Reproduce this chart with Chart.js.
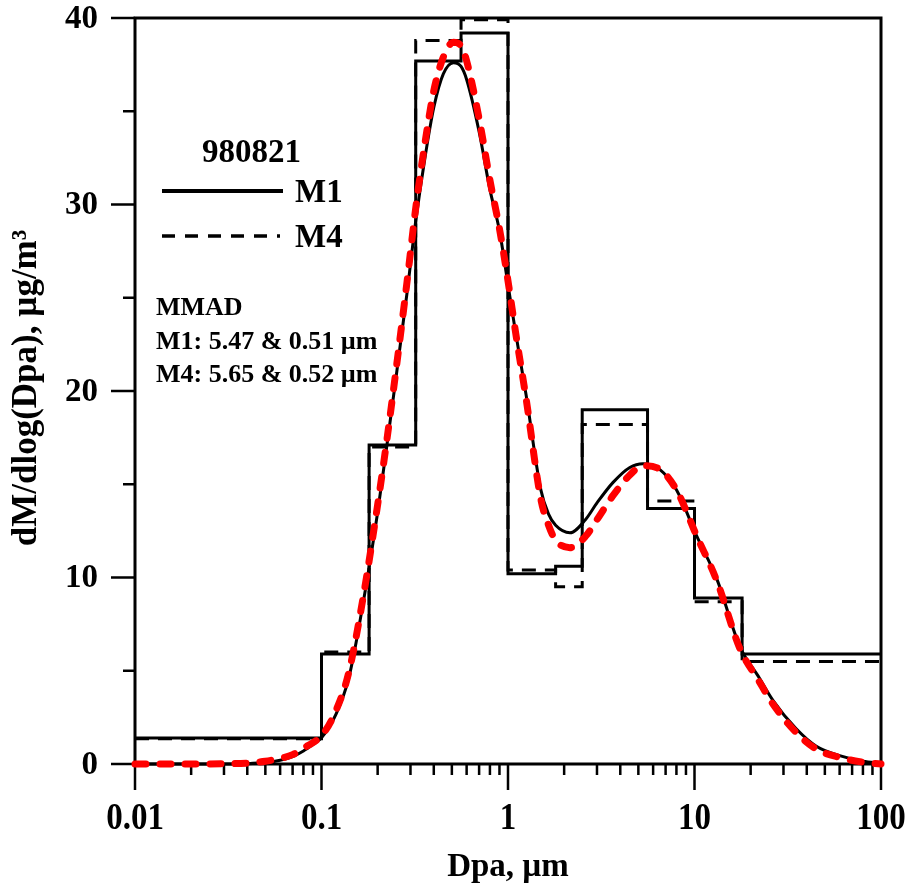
<!DOCTYPE html>
<html>
<head>
<meta charset="utf-8">
<script src="https://cdn.jsdelivr.net/npm/chart.js@4/dist/chart.umd.min.js"></script>
<style>
  html, body { margin: 0; padding: 0; background: #ffffff; }
  #wrap { width: 911px; height: 883px; position: relative; }
</style>
</head>
<body>
<div id="wrap"><canvas id="c" width="911" height="883"></canvas></div>
<script>
// Impactor stage boundaries (µm) and measured dM/dlog(Dpa) per stage
const binEdges = [0.01, 0.1, 0.18, 0.32, 0.56, 1.0, 1.8, 2.5, 5.6, 10, 18, 100];
const m1Bins   = [1.4, 5.9, 17.1, 37.7, 39.2, 10.2, 10.6, 19.0, 13.7, 8.9, 5.9];
const m4Bins   = [1.35, 6.0, 17.0, 38.8, 39.9, 10.4, 9.5, 18.2, 14.1, 8.7, 5.5];

// Fitted size distributions
const fitDiameters = [0.01, 0.02, 0.03, 0.04, 0.05, 0.06, 0.07, 0.08, 0.09, 0.1,
  0.12, 0.14, 0.167, 0.2, 0.225, 0.25, 0.287, 0.32, 0.36, 0.4, 0.45, 0.51, 0.56,
  0.6, 0.7, 0.8, 0.9, 1.0, 1.1, 1.25, 1.5, 1.65, 1.8, 2.15, 2.6, 3.0, 3.66, 4.5,
  5.3, 6.5, 8.0, 10.3, 13.2, 17.5, 22, 26.4, 35, 45, 60, 80, 100];
const fitM1 = [0, 0, 0, 0.02, 0.08, 0.2, 0.4, 0.7, 1.05, 1.4,
  2.7, 4.6, 8.6, 13.5, 17.2, 20.6, 25.2, 29.1, 32.6, 35.2, 37.0, 37.6, 37.4,
  36.7, 33.9, 30.8, 28.6, 25.7, 23.1, 19.8, 14.7, 13.4, 12.8, 12.4, 13.1, 14.0, 15.1, 15.9,
  16.1, 15.8, 14.7, 12.2, 9.9, 6.3, 4.7, 3.4, 1.9, 0.95, 0.45, 0.15, 0.05];
const fitM4 = [0, 0, 0.01, 0.05, 0.15, 0.3, 0.5, 0.85, 1.15, 1.5,
  2.9, 4.9, 8.9, 13.9, 17.5, 21.0, 25.8, 29.8, 33.4, 36.1, 37.9, 38.7, 38.5,
  37.7, 34.6, 31.3, 28.7, 25.9, 23.1, 19.6, 14.2, 12.8, 12.0, 11.6, 12.2, 13.1, 14.4, 15.5,
  16.0, 15.8, 14.7, 12.2, 9.8, 6.2, 4.5, 3.2, 1.7, 0.8, 0.35, 0.1, 0];

// Axis ticks
const xTickValues = [0.01, 0.1, 1, 10, 100];
const xTickLabels = ['0.01', '0.1', '1', '10', '100'];
const yTickValues = [0, 10, 20, 30, 40];
const yTickLabels = ['0', '10', '20', '30', '40'];
const yMinorValues = [5, 15, 25, 35];

const FONT = '"Liberation Serif", "Times New Roman", serif';

function stepPoints(edges, vals) {
  const pts = vals.map((v, i) => ({ x: edges[i], y: v }));
  pts.push({ x: edges[edges.length - 1], y: vals[vals.length - 1] });
  return pts;
}
function curvePoints(xs, ys) {
  return xs.map((x, i) => ({ x: x, y: ys[i] }));
}

// Axes, ticks and frame drawn from the chart's own scales
const framePlugin = {
  id: 'framePlugin',
  beforeDatasetsDraw(chart) {
    const ctx = chart.ctx;
    const xs = chart.scales.x, ys = chart.scales.y;
    const a = chart.chartArea;
    ctx.save();
    ctx.strokeStyle = '#000';
    ctx.lineCap = 'butt';
    // frame
    ctx.lineWidth = 3;
    ctx.beginPath();
    ctx.moveTo(a.left, a.bottom);
    ctx.lineTo(a.right, a.bottom);
    ctx.moveTo(a.left, a.top);
    ctx.lineTo(a.right, a.top);
    ctx.moveTo(a.left, a.top - 1.5);
    ctx.lineTo(a.left, a.bottom);
    ctx.moveTo(a.right, a.top - 1.5);
    ctx.lineTo(a.right, a.bottom);
    ctx.stroke();
    // x ticks (outside, below)
    ctx.lineWidth = 2.5;
    ctx.beginPath();
    for (let e = -2; e <= 2; e++) {
      const base = Math.pow(10, e);
      const px = xs.getPixelForValue(base);
      ctx.moveTo(px, a.bottom);
      ctx.lineTo(px, a.bottom + 26);
      if (e < 2) {
        for (let m = 2; m <= 9; m++) {
          const mx = xs.getPixelForValue(base * m);
          ctx.moveTo(mx, a.bottom);
          ctx.lineTo(mx, a.bottom + 11);
        }
      }
    }
    // y ticks (outside, left)
    yTickValues.forEach(v => {
      const py = ys.getPixelForValue(v);
      ctx.moveTo(a.left, py);
      ctx.lineTo(a.left - 24, py);
    });
    yMinorValues.forEach(v => {
      const py = ys.getPixelForValue(v);
      ctx.moveTo(a.left, py);
      ctx.lineTo(a.left - 12, py);
    });
    ctx.stroke();
    ctx.restore();
  },
  afterDraw(chart) {
    const ctx = chart.ctx;
    const xs = chart.scales.x, ys = chart.scales.y;
    const a = chart.chartArea;
    ctx.save();
    ctx.fillStyle = '#000';
    // tick labels (x labels slightly tall)
    ctx.font = 'bold 33px ' + FONT;
    ctx.textAlign = 'center';
    ctx.textBaseline = 'middle';
    xTickValues.forEach((v, i) => {
      ctx.save();
      ctx.translate(xs.getPixelForValue(v), a.bottom + 55);
      ctx.scale(1, 1.15);
      ctx.fillText(xTickLabels[i], 0, 0);
      ctx.restore();
    });
    ctx.textAlign = 'right';
    yTickValues.forEach((v, i) => {
      ctx.fillText(yTickLabels[i], a.left - 37, ys.getPixelForValue(v) + 1);
    });
    // axis titles
    ctx.textAlign = 'center';
    ctx.font = 'bold 33px ' + FONT;
    ctx.fillText('Dpa, \u00B5m', (a.left + a.right) / 2, a.bottom + 103);
    ctx.save();
    ctx.translate(27, 388);
    ctx.rotate(-Math.PI / 2);
    ctx.font = 'bold 35px ' + FONT;
    ctx.fillText('dM/dlog(Dpa), \u00B5g/m\u00B3', 0, 0);
    ctx.restore();

    // legend block
    ctx.textAlign = 'left';
    ctx.font = 'bold 33px ' + FONT;
    ctx.fillText('980821', 202, 153);
    ctx.fillText('M1', 295, 193);
    ctx.fillText('M4', 295, 238);
    ctx.lineWidth = 4;
    ctx.strokeStyle = '#000';
    ctx.beginPath();
    ctx.moveTo(162, 191);
    ctx.lineTo(283, 191);
    ctx.stroke();
    ctx.setLineDash([13, 10]);
    ctx.lineWidth = 3.5;
    ctx.beginPath();
    ctx.moveTo(162, 236);
    ctx.lineTo(280, 236);
    ctx.stroke();
    ctx.setLineDash([]);

    // MMAD annotation
    ctx.font = 'bold 26px ' + FONT;
    ctx.fillText('MMAD', 156, 308);
    ctx.fillText('M1: 5.47 & 0.51 \u00B5m', 156, 342);
    ctx.fillText('M4: 5.65 & 0.52 \u00B5m', 156, 375);
    ctx.restore();
  }
};

new Chart(document.getElementById('c'), {
  type: 'line',
  data: {
    datasets: [
      {
        label: 'M4 fit',
        data: curvePoints(fitDiameters, fitM4),
        borderColor: '#ff0000',
        borderWidth: 7,
        borderDash: [11, 14],
        borderCapStyle: 'round',
        borderJoinStyle: 'round',
        pointRadius: 0,
        cubicInterpolationMode: 'monotone',
        clip: false,
        order: 0
      },
      {
        label: 'M1 fit',
        data: curvePoints(fitDiameters, fitM1),
        borderColor: '#000000',
        borderWidth: 3,
        pointRadius: 0,
        cubicInterpolationMode: 'monotone',
        clip: false,
        order: 1
      },
      {
        label: 'M4',
        data: stepPoints(binEdges, m4Bins),
        borderColor: '#000000',
        borderWidth: 3,
        borderDash: [14, 9],
        stepped: 'before',
        pointRadius: 0,
        clip: false,
        order: 2
      },
      {
        label: 'M1',
        data: stepPoints(binEdges, m1Bins),
        borderColor: '#000000',
        borderWidth: 3,
        stepped: 'before',
        pointRadius: 0,
        clip: false,
        order: 3
      }
    ]
  },
  options: {
    responsive: false,
    animation: false,
    devicePixelRatio: 1,
    layout: { padding: { left: 135, right: 30, top: 18, bottom: 119 } },
    plugins: { legend: { display: false }, tooltip: { enabled: false } },
    scales: {
      x: { type: 'logarithmic', min: 0.01, max: 100, display: false },
      y: { type: 'linear', min: 0, max: 40, display: false }
    }
  },
  plugins: [framePlugin]
});
</script>
</body>
</html>
